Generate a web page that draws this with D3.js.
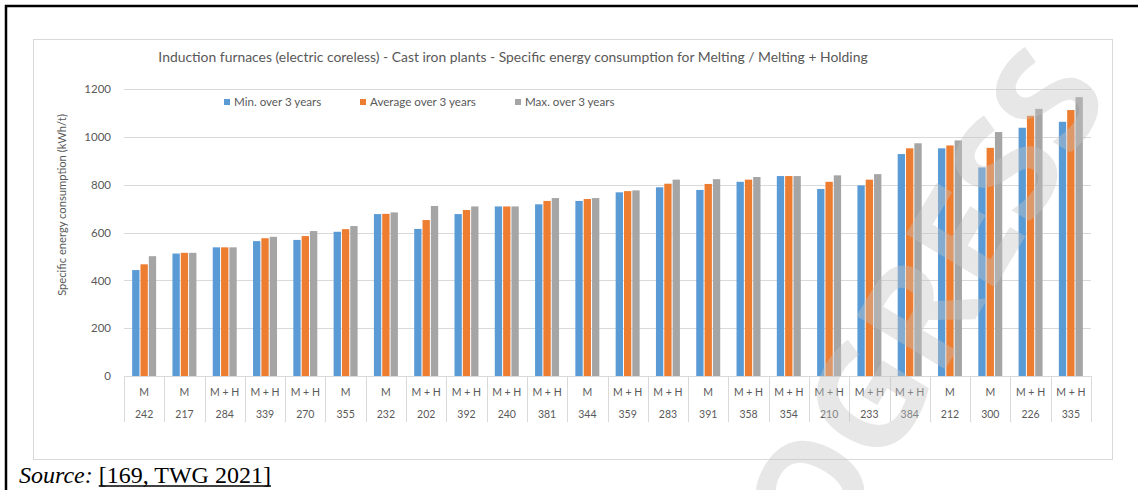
<!DOCTYPE html>
<html>
<head>
<meta charset="utf-8">
<script src="https://d3js.org/d3.v7.min.js"></script>
<style>
  body { margin: 0; background: #fff; }
</style>
</head>
<body>
<div id="chart"></div>
<script>
// plants (id + type)
var plantIds = ["242","217","284","339","270","355","232","202","392","240","381","344","359","283","391","358","354","210","233","384","212","300","226","335"];
var plantTypes = ["M","M","M + H","M + H","M + H","M","M","M + H","M + H","M + H","M + H","M","M + H","M + H","M","M + H","M + H","M + H","M + H","M + H","M","M","M + H","M + H"];

var minValues = [443,512,538,564,569,603,677,615,677,709,718,732,768,789,778,812,836,782,797,928,952,872,1038,1063];
var avgValues = [467,515,538,576,585,614,678,652,694,709,732,740,773,804,803,821,836,812,821,952,964,954,1088,1112];
var maxValues = [501,515,538,582,606,627,684,711,709,709,744,744,776,821,823,832,836,839,844,973,985,1020,1117,1166];

var seriesNames = ["Min. over 3 years", "Average over 3 years", "Max. over 3 years"];
var seriesColors = ["#5B9BD5", "#ED7D31", "#A5A5A5"];
var yTicks = [0, 200, 400, 600, 800, 1000, 1200];

var width = 1138, height = 490;
var textColor = "#595959";
var gridColor = "#d9d9d9";
var font = "Lato, 'Open Sans', sans-serif";

var svg = d3.select("#chart").append("svg")
  .attr("width", width)
  .attr("height", height);

svg.append("rect")
  .attr("width", width)
  .attr("height", height)
  .attr("fill", "#fff");

// outer page frame
svg.append("rect")
  .attr("x", 6)
  .attr("y", 6)
  .attr("width", width + 20)
  .attr("height", height + 20)
  .attr("fill", "none")
  .attr("stroke", "#000")
  .attr("stroke-width", 2.5);

// chart area box
svg.append("rect")
  .attr("x", 33.5)
  .attr("y", 39.5)
  .attr("width", 1079)
  .attr("height", 420)
  .attr("fill", "#fff")
  .attr("stroke", gridColor)
  .attr("stroke-width", 1);

var yScale = d3.scaleLinear()
  .domain([0, 1200])
  .range([376, 89]);

var xScale = d3.scaleBand()
  .domain(d3.range(plantIds.length))
  .range([124, 1091])
  .paddingInner(0.38)
  .paddingOuter(0.19);

var xInner = d3.scaleBand()
  .domain([0, 1, 2])
  .range([0, xScale.bandwidth()]);

// gridlines + y tick labels
var yAxis = d3.axisLeft(yScale)
  .tickValues(yTicks)
  .tickFormat(d3.format("d"))
  .tickSize(-(1091 - 124))
  .tickPadding(13);

var yg = svg.append("g")
  .attr("transform", "translate(124,0)")
  .call(yAxis);
yg.select(".domain").remove();
yg.selectAll(".tick line")
  .attr("stroke", gridColor)
  .attr("stroke-width", 1)
  .attr("shape-rendering", "crispEdges");
yg.selectAll(".tick text")
  .attr("fill", textColor)
  .style("font-family", font)
  .style("font-size", "11.5px");

// bars
var rows = plantIds.map(function(d, i) {
  return [minValues[i], avgValues[i], maxValues[i]];
});

var groups = svg.append("g").selectAll(".group")
  .data(rows)
  .enter().append("g")
  .attr("class", "group")
  .attr("transform", function(d, i) { return "translate(" + xScale(i) + ",0)"; });

groups.selectAll("rect")
  .data(function(d) { return d; })
  .enter().append("rect")
  .attr("x", function(d, j) { return xInner(j) + 0.5; })
  .attr("y", function(d) { return yScale(d); })
  .attr("width", xInner.bandwidth() - 1)
  .attr("height", function(d) { return yScale(0) - yScale(d); })
  .attr("fill", function(d, j) { return seriesColors[j]; });

// category table under the axis
var step = xScale.step();
var xg = svg.append("g");
xg.append("line")
  .attr("x1", 124).attr("x2", 1091)
  .attr("y1", 376.5).attr("y2", 376.5)
  .attr("stroke", gridColor);

d3.range(plantIds.length + 1).forEach(function(i) {
  var x = Math.round(124 + i * step) + 0.5;
  xg.append("line")
    .attr("x1", x).attr("x2", x)
    .attr("y1", 376).attr("y2", 422)
    .attr("stroke", gridColor);
});

plantIds.forEach(function(d, i) {
  var cx = xScale(i) + xScale.bandwidth() / 2;
  xg.append("text")
    .attr("x", cx)
    .attr("y", 396)
    .attr("text-anchor", "middle")
    .attr("fill", textColor)
    .style("font-family", font)
    .style("font-size", "10.5px")
    .text(plantTypes[i]);
  xg.append("text")
    .attr("x", cx)
    .attr("y", 418)
    .attr("text-anchor", "middle")
    .attr("fill", textColor)
    .style("font-family", font)
    .style("font-size", "10.5px")
    .text(d);
});

// title
var title = svg.append("text")
  .attr("x", 513)
  .attr("y", 62)
  .attr("text-anchor", "middle")
  .attr("fill", textColor)
  .style("font-family", font)
  .style("font-size", "14px")
  .text("Induction furnaces (electric coreless) - Cast iron plants - Specific energy consumption for Melting / Melting + Holding");
var tw = title.node().getComputedTextLength();
title.style("font-size", (14 * 710 / tw) + "px");

// y axis title
svg.append("text")
  .attr("transform", "translate(66,205) rotate(-90)")
  .attr("text-anchor", "middle")
  .attr("fill", textColor)
  .style("font-family", font)
  .style("font-size", "11.2px")
  .text("Specific energy consumption (kWh/t)");

// legend
var legendX = [224, 360, 515];
seriesNames.forEach(function(d, i) {
  svg.append("rect")
    .attr("x", legendX[i])
    .attr("y", 99)
    .attr("width", 6)
    .attr("height", 6)
    .attr("fill", seriesColors[i]);
  svg.append("text")
    .attr("x", legendX[i] + 10)
    .attr("y", 106)
    .attr("fill", textColor)
    .style("font-family", font)
    .style("font-size", "11.6px")
    .text(d);
});

// source line
var src = svg.append("text")
  .attr("x", 19)
  .attr("y", 483)
  .style("font-family", "'Liberation Serif', 'DejaVu Serif', serif")
  .style("font-size", "24px")
  .attr("fill", "#000");
var s1 = src.append("tspan")
  .style("font-style", "italic")
  .text("Source: ");
var s2 = src.append("tspan")
  .text("[169, TWG 2021]");
var ux = 19 + s1.node().getComputedTextLength();
svg.append("line")
  .attr("x1", ux)
  .attr("x2", ux + s2.node().getComputedTextLength())
  .attr("y1", 486)
  .attr("y2", 486)
  .attr("stroke", "#000")
  .attr("stroke-width", 1.5);

// watermark
svg.append("text")
  .attr("transform", "translate(1112,92) rotate(-59)")
  .attr("text-anchor", "end")
  .attr("fill", "#c4c4c4")
  .attr("opacity", 0.4)
  .style("font-family", "'Open Sans', sans-serif")
  .style("font-weight", 700)
  .style("font-size", "145px")
  .text("WORK IN PROGRESS");
</script>
</body>
</html>
